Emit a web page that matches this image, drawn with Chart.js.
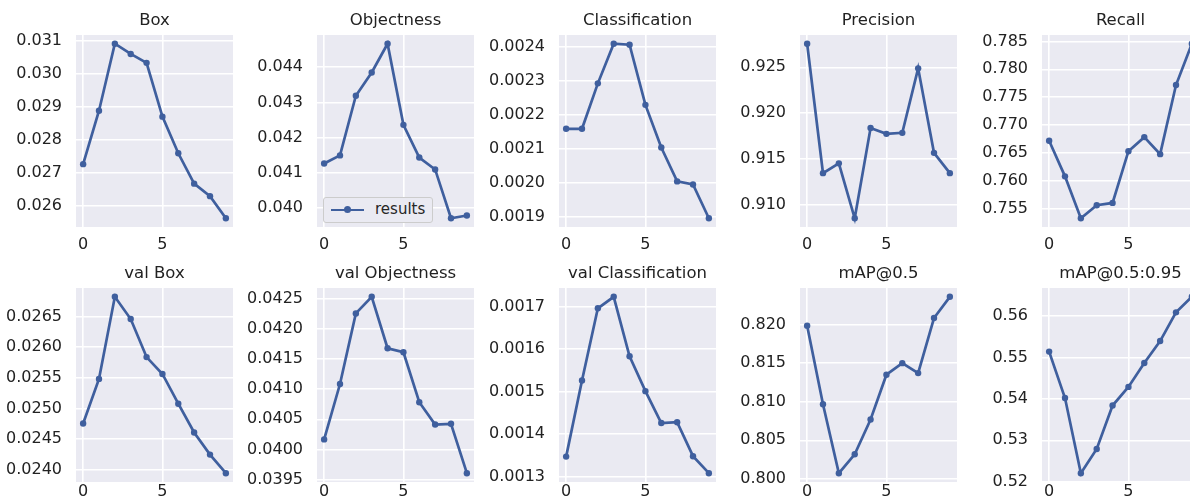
<!DOCTYPE html>
<html>
<head>
<meta charset="utf-8">
<title>Training results</title>
<script src="https://cdn.jsdelivr.net/npm/chart.js@4.4.1/dist/chart.umd.min.js"></script>
<style>
  html, body { margin: 0; padding: 0; background: #ffffff; }
  body { position: relative; width: 1190px; height: 504px; overflow: hidden; }
  canvas.panel { position: absolute; z-index: 1; }
  .legend {
    position: absolute; z-index: 5; left: 323px; top: 197px; width: 108px; height: 24px;
    background: #eaeaf2; border: 1px solid #cccccc; border-radius: 3px;
    font-family: 'DejaVu Sans', sans-serif; font-size: 15px; color: #262626;
  }
  .legend .ln { position: absolute; left: 7px; top: 10.5px; width: 33px; height: 2.5px; background: #3f5f9e; }
  .legend .dot { position: absolute; left: 20px; top: 8.2px; width: 7px; height: 7px; border-radius: 50%; background: #3f5f9e; }
  .legend .txt { position: absolute; left: 51px; top: 2px; line-height: 18px; }
</style>
</head>
<body>
<div class="legend"><span class="ln"></span><span class="dot"></span><span class="txt">results</span></div>
<script>
// Per-epoch metrics
const epochs = [0, 1, 2, 3, 4, 5, 6, 7, 8, 9];

const boxLoss   = [0.02725, 0.02887, 0.03090, 0.03059, 0.03032, 0.02869, 0.02758, 0.02666, 0.02628, 0.02561];
const objLoss   = [0.04126, 0.04149, 0.04319, 0.04385, 0.04467, 0.04236, 0.04143, 0.04109, 0.03970, 0.03978];
const clsLoss   = [0.002159, 0.002159, 0.002292, 0.002408, 0.002405, 0.002229, 0.002104, 0.002005, 0.001996, 0.001897];
const precision = [0.92757, 0.91348, 0.91455, 0.90857, 0.91840, 0.91776, 0.91787, 0.92489, 0.91569, 0.91348];
const recall    = [0.76717, 0.76077, 0.75324, 0.75559, 0.75600, 0.76529, 0.76782, 0.76476, 0.77718, 0.78460];

const valBoxLoss = [0.024752, 0.025482, 0.026825, 0.026461, 0.025839, 0.025563, 0.025076, 0.024606, 0.024244, 0.023940];
const valObjLoss = [0.040168, 0.041084, 0.042252, 0.042527, 0.041676, 0.041610, 0.040783, 0.040414, 0.040426, 0.039609];
const valClsLoss = [0.001347, 0.001526, 0.001696, 0.001723, 0.001583, 0.001501, 0.001426, 0.001428, 0.001348, 0.001308];
const map50      = [0.81987, 0.80968, 0.80074, 0.80319, 0.80770, 0.81351, 0.81501, 0.81372, 0.82086, 0.82361];
const map5095    = [0.55146, 0.54024, 0.52206, 0.52792, 0.53841, 0.54292, 0.54871, 0.55400, 0.56095, 0.56470];

const titles = ['Box', 'Objectness', 'Classification', 'Precision', 'Recall',
                'val Box', 'val Objectness', 'val Classification', 'mAP@0.5', 'mAP@0.5:0.95'];

// Tick labels
const xTickLabels = ['0', '5'];
const boxTicks    = ['0.026', '0.027', '0.028', '0.029', '0.030', '0.031'];
const objTicks    = ['0.040', '0.041', '0.042', '0.043', '0.044'];
const clsTicks    = ['0.0019', '0.0020', '0.0021', '0.0022', '0.0023', '0.0024'];
const precTicks   = ['0.910', '0.915', '0.920', '0.925'];
const recTicks    = ['0.755', '0.760', '0.765', '0.770', '0.775', '0.780', '0.785'];
const vBoxTicks   = ['0.0240', '0.0245', '0.0250', '0.0255', '0.0260', '0.0265'];
const vObjTicks   = ['0.0395', '0.0400', '0.0405', '0.0410', '0.0415', '0.0420', '0.0425'];
const vClsTicks   = ['0.0013', '0.0014', '0.0015', '0.0016', '0.0017'];
const map50Ticks  = ['0.800', '0.805', '0.810', '0.815', '0.820'];
const map95Ticks  = ['0.52', '0.53', '0.54', '0.55', '0.56'];

const series = [boxLoss, objLoss, clsLoss, precision, recall,
                valBoxLoss, valObjLoss, valClsLoss, map50, map5095];
const yTickSets = [boxTicks, objTicks, clsTicks, precTicks, recTicks,
                   vBoxTicks, vObjTicks, vClsTicks, map50Ticks, map95Ticks];

// Grid layout (plot areas)
const colLeft = [76, 317, 559, 800, 1042];
const rowTop = [35, 288];
const plotW = 157;
const plotH = [192, 194];
const yAxisW = 80;
const titleH = 30;
const xAxisH = 24;
const xTickPad = [8, 0];

const LINE = '#3f5f9e';
const TEXT = '#222222';
const FONT = 'DejaVu Sans';

const plotBackground = {
  id: 'plotBackground',
  beforeDraw(chart) {
    const { ctx, chartArea: a } = chart;
    ctx.save();
    ctx.fillStyle = '#eaeaf2';
    ctx.fillRect(a.left, a.top, a.right - a.left, a.bottom - a.top);
    ctx.restore();
  }
};

function padded(values) {
  const lo = Math.min(...values), hi = Math.max(...values);
  const m = (hi - lo) * 0.05;
  return [lo - m, hi + m];
}

series.forEach((vals, i) => {
  const row = Math.floor(i / 5), col = i % 5;
  const yTicks = yTickSets[i];
  const [yMin, yMax] = padded(vals);

  const cv = document.createElement('canvas');
  cv.className = 'panel';
  const w = yAxisW + plotW + 4;
  const h = titleH + plotH[row] + xAxisH;
  cv.width = w; cv.height = h;
  cv.style.width = w + 'px'; cv.style.height = h + 'px';
  cv.style.left = (colLeft[col] - yAxisW) + 'px';
  cv.style.top = (rowTop[row] - titleH) + 'px';
  document.body.appendChild(cv);

  new Chart(cv, {
    type: 'line',
    data: {
      datasets: [{
        label: 'results',
        data: epochs.map((e, k) => ({ x: e, y: vals[k] })),
        borderColor: LINE,
        backgroundColor: LINE,
        borderWidth: 2.7,
        pointRadius: 3.2,
        pointBorderWidth: 0,
        pointBackgroundColor: LINE,
        tension: 0,
        fill: false
      }]
    },
    options: {
      responsive: false,
      animation: false,
      devicePixelRatio: 1,
      layout: { padding: { left: 0, right: 4, top: 0, bottom: 0 } },
      plugins: {
        legend: { display: false },
        tooltip: { enabled: false },
        title: {
          display: true,
          text: titles[i],
          fullSize: false,
          color: TEXT,
          font: { family: FONT, size: 16.5, weight: 'normal', lineHeight: '20px' },
          padding: { top: 5.5, bottom: 4.5 }
        }
      },
      scales: {
        x: {
          type: 'linear',
          min: -0.45,
          max: 9.45,
          afterBuildTicks: s => { s.ticks = xTickLabels.map(t => ({ value: Number(t) })); },
          afterFit: s => { s.height = xAxisH; },
          grid: { color: '#ffffff', lineWidth: 1.6, drawTicks: false },
          border: { display: false },
          ticks: {
            autoSkip: false, maxRotation: 0,
            padding: xTickPad[row],
            color: TEXT,
            font: { family: FONT, size: 16 },
            callback: (v, k) => xTickLabels[k]
          }
        },
        y: {
          type: 'linear',
          min: yMin,
          max: yMax,
          afterBuildTicks: s => { s.ticks = yTicks.map(t => ({ value: Number(t) })); },
          afterFit: s => { s.width = yAxisW; },
          grid: { color: '#ffffff', lineWidth: 1.6, drawTicks: false },
          border: { display: false },
          ticks: {
            autoSkip: false,
            padding: 14,
            color: TEXT,
            font: { family: FONT, size: 16 },
            callback: (v, k) => yTicks[k]
          }
        }
      }
    },
    plugins: [plotBackground]
  });
});
</script>
</body>
</html>
